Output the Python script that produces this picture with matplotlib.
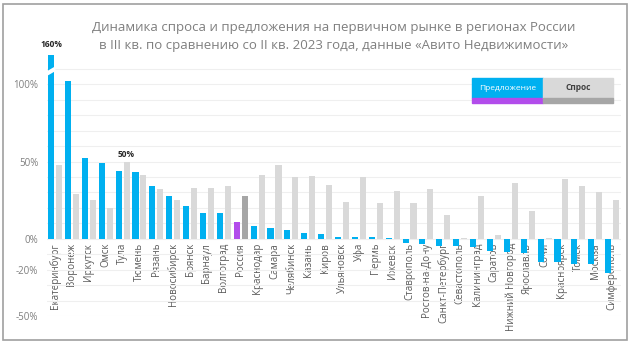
import numpy as np
import matplotlib.pyplot as plt
from matplotlib.patches import Rectangle

plt.rcParams['font.family'] = ['Open Sans', 'DejaVu Sans']

# Данные (оценка по картинке), %
regions = ["Екатеринбург", "Воронеж", "Иркутск", "Омск", "Тула", "Тюмень", "Рязань",
           "Новосибирск", "Брянск", "Барнаул", "Волгоград", "Россия", "Краснодар",
           "Самара", "Челябинск", "Казань", "Киров", "Ульяновск", "Уфа", "Пермь",
           "Ижевск", "Ставрополь", "Ростов-на-Дону", "Санкт-Петербург", "Севастополь",
           "Калининград", "Саратов", "Нижний Новгород", "Ярославль", "Сочи",
           "Красноярск", "Томск", "Москва", "Симферополь"]
supply = [160, 102, 52, 49, 44, 43, 34, 28, 21, 17, 17, 11, 8.5, 7, 6, 3.5, 3, 1.3, 1.3, 0.9,
          0.3, -2.8, -3.5, -4.5, -4.8, -5, -7.8, -8.4, -8.9, -14.7, -15, -16, -16.5, -22]
demand = [48, 29, 25, 20, 50, 41, 32, 25, 33, 33, 34, 28, 41, 48, 40, 40.5, 35, 24, 40, 23,
          31, 23, 32, 15.6, 0.3, 28, 2.6, 36, 18, 0.3, 39, 34, 30, 25]
y_ticks = [-50, -20, 0, 50, 100]
highlight = "Россия"

BLUE = "#00B0F0"
GRAY = "#D9D9D9"
PURPLE = "#B24CEB"
DGRAY = "#A6A6A6"

x = np.arange(len(regions))
sup_colors = [PURPLE if r == highlight else BLUE for r in regions]
dem_colors = [DGRAY if r == highlight else GRAY for r in regions]

fig = plt.figure(figsize=(6.3, 3.5), dpi=100)
ax = fig.add_axes([0.074, 0.097, 0.911, 0.746])

ax.bar(x - 0.235, supply, width=0.36, color=sup_colors, zorder=3)
ax.bar(x + 0.235, demand, width=0.36, color=dem_colors, zorder=3)

ax.set_xlim(-0.5, len(regions) - 0.5)
ax.set_ylim(-50, 119)

# оси (подписи категорий у линии 0%)
for s in ax.spines.values():
    s.set_visible(False)
ax.spines["bottom"].set_position(("data", 0))

ax.set_yticks(y_ticks)
ax.set_yticklabels([f"{v}%" for v in y_ticks])
ax.set_yticks(np.arange(-50, 111, 10), minor=True)
ax.grid(True, which="both", axis="y", color="#EFEFEF", lw=0.8, zorder=0)
ax.tick_params(axis="y", which="both", length=0, labelsize=7, labelcolor="#7F7F7F", pad=6)

ax.set_xticks(x)
ax.set_xticklabels(regions, rotation=90, va="top", ha="center")
ax.tick_params(axis="x", length=0, labelsize=7, labelcolor="#595959", pad=3)

# разрыв у первого столбца
ytop = ax.get_ylim()[1]
ax.plot([x[0] - 0.47, x[0] + 0.0], [ytop - 12, ytop - 9], color="white", lw=3, zorder=4,
        solid_capstyle="butt")

# подписи
ax.annotate(f"{supply[0]:.0f}%", (x[0] - 0.235, ytop), xytext=(0, 4), textcoords="offset points",
            ha="center", va="bottom", fontsize=6, fontweight="bold", color="#262626",
            annotation_clip=False)
i_tula = regions.index("Тула")
ax.annotate(f"{demand[i_tula]:.0f}%", (x[i_tula] + 0.235, demand[i_tula]), xytext=(0, 2),
            textcoords="offset points", ha="center", va="bottom", fontsize=6,
            fontweight="bold", color="#262626")

# заголовок
fig.text(0.53, 0.94, "Динамика спроса и предложения на первичном рынке в регионах России\n"
         "в III кв. по сравнению со II кв. 2023 года, данные «Авито Недвижимости»",
         ha="center", va="top", fontsize=9.5, color="#7F7F7F", linespacing=1.55)

# легенда-плашка
fig.patches.append(Rectangle((472 / 630, 1 - 98 / 350), 71 / 630, 20 / 350,
                             transform=fig.transFigure, color=BLUE))
fig.patches.append(Rectangle((472 / 630, 1 - 103 / 350), 71 / 630, 5 / 350,
                             transform=fig.transFigure, color=PURPLE))
fig.patches.append(Rectangle((543 / 630, 1 - 98 / 350), 70 / 630, 20 / 350,
                             transform=fig.transFigure, color=GRAY))
fig.patches.append(Rectangle((543 / 630, 1 - 103 / 350), 70 / 630, 5 / 350,
                             transform=fig.transFigure, color=DGRAY))
fig.text(507.5 / 630, 1 - 88 / 350, "Предложение", ha="center", va="center",
         fontsize=6, color="white")
fig.text(578 / 630, 1 - 88 / 350, "Спрос", ha="center", va="center",
         fontsize=6, fontweight="bold", color="#404040")

# рамка вокруг картинки
fig.patches.append(Rectangle((0.004, 0.03), 0.992, 0.96, transform=fig.transFigure,
                             fill=False, edgecolor="#A0A0A0", lw=1.2))

plt.savefig("out.png", dpi=100)
